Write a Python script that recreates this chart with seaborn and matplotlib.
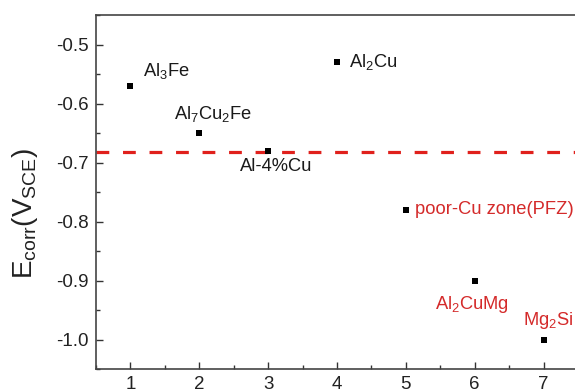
import matplotlib
matplotlib.use("Agg")
import matplotlib.pyplot as plt
import seaborn as sns
import pandas as pd
from matplotlib.ticker import MultipleLocator

# Corrosion potentials of the intermetallic phases and the matrix
phases = ["Al$_3$Fe", "Al$_7$Cu$_2$Fe", "Al-4%Cu", "Al$_2$Cu",
          "poor-Cu zone(PFZ)", "Al$_2$CuMg", "Mg$_2$Si"]
index = [1, 2, 3, 4, 5, 6, 7]
ecorr = [-0.57, -0.65, -0.68, -0.53, -0.78, -0.90, -1.00]
matrix_ecorr = -0.682

sns.set_theme(style="ticks")
plt.rcParams["font.family"] = ["Liberation Sans", "DejaVu Sans"]
plt.rcParams["mathtext.fontset"] = "custom"
plt.rcParams["mathtext.rm"] = "Liberation Sans"
plt.rcParams["mathtext.it"] = "Liberation Sans"
plt.rcParams["axes.unicode_minus"] = False

df = pd.DataFrame({"n": index, "E": ecorr, "phase": phases})

fig = plt.figure(figsize=(5.75, 3.9), dpi=100)
ax = fig.add_axes([96 / 575, 21 / 390, 482 / 575, 354 / 390])

ax.axhline(matrix_ecorr, color="#e0201c", lw=2.3, ls=(0, (4, 4.3)), zorder=1)
sns.scatterplot(data=df, x="n", y="E", marker="s", s=22, color="black",
                edgecolor="black", linewidth=0, ax=ax, zorder=3)

# label placement: (dx, dy) in pixels, horizontal alignment, colour
black = "#1a1a1a"
red = "#d42a2a"
placement = [
    (13, 15, "left", black),
    (14, 19, "center", black),
    (8, -16, "center", black),
    (12, 0, "left", black),
    (9, 0, "left", red),
    (-3, -24, "center", red),
    (-21, 19, "left", red),
]
for (xv, yv, name), (dx, dy, ha, col) in zip(zip(index, ecorr, phases), placement):
    ax.annotate(name, (xv, yv), xytext=(dx, dy), textcoords="offset pixels",
                ha=ha, va="center", fontsize=13.2, color=col)

ax.set_xlim(0.5, 7.5)
ax.set_ylim(-1.05, -0.45)
ax.xaxis.set_major_locator(MultipleLocator(1))
ax.xaxis.set_minor_locator(MultipleLocator(0.5))
ax.yaxis.set_major_locator(MultipleLocator(0.1))
ax.yaxis.set_minor_locator(MultipleLocator(0.05))
ax.yaxis.set_major_formatter(matplotlib.ticker.FormatStrFormatter("%.1f"))
ax.tick_params(which="both", direction="in", colors="#333333", labelcolor="#222222",
               width=1.0, top=False, right=False)
ax.tick_params(which="major", length=5, labelsize=13.5, pad=5)
ax.tick_params(which="minor", length=3)

for side in ["left", "bottom", "top"]:
    ax.spines[side].set_color("#444444")
    ax.spines[side].set_linewidth(1.2)
ax.spines["right"].set_visible(False)

ax.set_xlabel("")
ax.set_ylabel("E$_{\\rm corr}$(V$_{\\rm SCE}$)", fontsize=20, color="#222222")
ax.yaxis.set_label_coords(-56 / 482, 0.44)

fig.savefig("out.png", dpi=100)
